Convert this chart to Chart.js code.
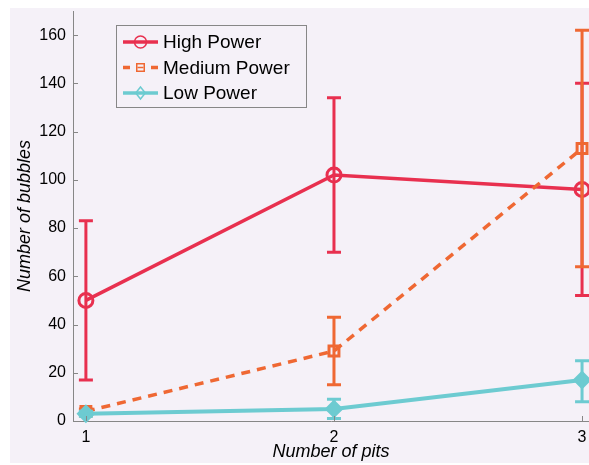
<!DOCTYPE html>
<html>
<head>
<meta charset="utf-8">
<script src="https://cdn.jsdelivr.net/npm/chart.js@4/dist/chart.umd.min.js"></script>
<style>
  html, body { margin: 0; padding: 0; background: #ffffff; }
  canvas { display: block; }
</style>
</head>
<body>
<canvas id="c" width="589" height="465"></canvas>
<script>
// Number of pits on the x axis
const pits = [1, 2, 3];

// Mean bubble counts per power level
const highPower = [50, 102, 96];
const mediumPower = [4, 29, 113];
const lowPower = [3, 5, 17];

// Error bar extents (lower / upper)
const highLower = [17, 70, 52];
const highUpper = [83, 134, 140];
const mediumLower = [3, 15, 64];
const mediumUpper = [5, 43, 162];
const lowLower = [2, 1, 8];
const lowUpper = [4, 9, 25];

// Tick labels
const xTicks = [1, 2, 3];
const yTicks = [0, 20, 40, 60, 80, 100, 120, 140, 160];

const seriesLabels = ['High Power', 'Medium Power', 'Low Power'];

const RED = '#e8304f';
const ORANGE = '#ef6833';
const CYAN = '#6dcbd1';
const AXIS = '#878787';
const PANEL = '#f5f1f8';
const FONT = "'Liberation Sans', Arial, Helvetica, sans-serif";

const toPoints = (ys) => pits.map((x, i) => ({ x: x, y: ys[i] }));

const errors = [
  { lower: highLower, upper: highUpper },
  { lower: mediumLower, upper: mediumUpper },
  { lower: lowLower, upper: lowUpper }
];

// Lavender figure panel behind the axes
const panelPlugin = {
  id: 'panel',
  beforeDraw(chart) {
    const ctx = chart.ctx;
    ctx.save();
    ctx.fillStyle = PANEL;
    ctx.fillRect(10, 8, chart.width - 10, 455);
    ctx.restore();
  }
};

// Inward tick marks on both axes
const innerTicksPlugin = {
  id: 'innerTicks',
  afterDraw(chart) {
    const { ctx, scales: { x, y }, chartArea } = chart;
    ctx.save();
    ctx.strokeStyle = AXIS;
    ctx.lineWidth = 1;
    ctx.beginPath();
    yTicks.forEach(v => {
      const py = Math.round(y.getPixelForValue(v)) + 0.5;
      ctx.moveTo(chartArea.left, py);
      ctx.lineTo(chartArea.left + 5, py);
    });
    xTicks.forEach(v => {
      const px = Math.round(x.getPixelForValue(v)) + 0.5;
      ctx.moveTo(px, chartArea.bottom);
      ctx.lineTo(px, chartArea.bottom - 5);
    });
    ctx.stroke();
    ctx.restore();
  }
};

// Vertical error bars with caps, drawn right after each series
const errorBarPlugin = {
  id: 'errorBars',
  afterDatasetDraw(chart, args) {
    const idx = args.index;
    const ds = chart.data.datasets[idx];
    const err = errors[idx];
    const { ctx, scales: { x, y } } = chart;
    ctx.save();
    ctx.strokeStyle = ds.borderColor;
    ctx.lineWidth = 3;
    ctx.setLineDash([]);
    ctx.lineCap = 'butt';
    pits.forEach((p, i) => {
      const px = x.getPixelForValue(p);
      const yl = y.getPixelForValue(err.lower[i]);
      const yu = y.getPixelForValue(err.upper[i]);
      ctx.beginPath();
      ctx.moveTo(px, yl);
      ctx.lineTo(px, yu);
      ctx.moveTo(px - 7, yl);
      ctx.lineTo(px + 7, yl);
      ctx.moveTo(px - 7, yu);
      ctx.lineTo(px + 7, yu);
      ctx.stroke();
    });
    ctx.restore();
  }
};

function drawMarker(ctx, style, cx, cy, r, color, filled) {
  ctx.beginPath();
  if (style === 'circle') {
    ctx.arc(cx, cy, r, 0, Math.PI * 2);
  } else if (style === 'rect') {
    ctx.rect(cx - r * 0.75, cy - r * 0.75, r * 1.5, r * 1.5);
  } else {
    ctx.moveTo(cx, cy - r);
    ctx.lineTo(cx + r * 0.8, cy);
    ctx.lineTo(cx, cy + r);
    ctx.lineTo(cx - r * 0.8, cy);
    ctx.closePath();
  }
  if (filled) { ctx.fillStyle = color; ctx.fill(); }
  ctx.strokeStyle = color;
  ctx.stroke();
}

// Boxed legend with line samples and markers
const legendPlugin = {
  id: 'boxLegend',
  afterDraw(chart) {
    const ctx = chart.ctx;
    const bx = 116.5, by = 25.5, bw = 190, bh = 82;
    ctx.save();
    ctx.fillStyle = PANEL;
    ctx.fillRect(bx, by, bw, bh);
    ctx.strokeStyle = AXIS;
    ctx.lineWidth = 1;
    ctx.strokeRect(bx, by, bw, bh);
    const rows = [42, 67.5, 93];
    const styles = ['circle', 'rect', 'rectRot'];
    chart.data.datasets.forEach((ds, i) => {
      const ry = rows[i];
      ctx.strokeStyle = ds.borderColor;
      ctx.lineWidth = 3.5;
      ctx.beginPath();
      if (ds.borderDash) {
        ctx.moveTo(123, ry); ctx.lineTo(130, ry);
        ctx.moveTo(151, ry); ctx.lineTo(158, ry);
      } else {
        ctx.moveTo(123, ry); ctx.lineTo(158, ry);
      }
      ctx.stroke();
      ctx.lineWidth = 1.5;
      drawMarker(ctx, styles[i], 140.5, ry, i === 1 ? 5 : 6, ds.borderColor, false);
      if (i === 1) {
        ctx.beginPath();
        ctx.moveTo(137.5, ry); ctx.lineTo(143.5, ry);
        ctx.stroke();
      }
      ctx.fillStyle = '#000';
      ctx.font = '19px ' + FONT;
      ctx.textBaseline = 'middle';
      ctx.textAlign = 'left';
      ctx.fillText(ds.label, 163, ry + 1);
    });
    ctx.restore();
  }
};

new Chart(document.getElementById('c'), {
  type: 'line',
  data: {
    datasets: [
      {
        label: seriesLabels[0],
        data: toPoints(highPower),
        borderColor: RED,
        backgroundColor: 'rgba(0,0,0,0)',
        borderWidth: 3.5,
        pointStyle: 'circle',
        pointRadius: 7,
        pointBorderWidth: 3,
        pointBackgroundColor: 'rgba(0,0,0,0)',
        order: 3,
        clip: false
      },
      {
        label: seriesLabels[1],
        data: toPoints(mediumPower),
        borderColor: ORANGE,
        backgroundColor: 'rgba(0,0,0,0)',
        borderWidth: 3.5,
        borderDash: [9, 7],
        pointStyle: 'rect',
        pointRadius: 7,
        pointBorderWidth: 3,
        pointBackgroundColor: 'rgba(0,0,0,0)',
        order: 2,
        clip: false
      },
      {
        label: seriesLabels[2],
        data: toPoints(lowPower),
        borderColor: CYAN,
        backgroundColor: CYAN,
        borderWidth: 4,
        pointStyle: 'rectRot',
        pointRadius: 8,
        pointBorderWidth: 2,
        pointBackgroundColor: CYAN,
        order: 1,
        clip: false
      }
    ]
  },
  options: {
    responsive: false,
    animation: false,
    devicePixelRatio: 1,
    layout: { autoPadding: false, padding: { top: 11, right: 0, bottom: 0, left: 0 } },
    plugins: {
      legend: { display: false },
      tooltip: { enabled: false }
    },
    scales: {
      x: {
        type: 'linear',
        min: 0.948,
        max: 3.028,
        afterBuildTicks: (s) => { s.ticks = xTicks.map(v => ({ value: v })); },
        afterFit: (s) => { s.height = 44; s.paddingLeft = 0; s.paddingRight = 0; },
        grid: { display: true, drawOnChartArea: false, drawTicks: false },
        border: { display: true, color: AXIS, width: 1 },
        ticks: { color: '#000', font: { family: FONT, size: 16 }, padding: 7, maxRotation: 0 },
        title: {
          display: true,
          text: 'Number of pits',
          color: '#000',
          font: { family: FONT, size: 18, style: 'italic' },
          padding: { top: 0, bottom: 2 }
        }
      },
      y: {
        type: 'linear',
        min: 0,
        max: 170,
        afterBuildTicks: (s) => { s.ticks = yTicks.map(v => ({ value: v })); },
        afterFit: (s) => { s.width = 73; s.paddingTop = 0; s.paddingBottom = 0; },
        grid: { display: true, drawOnChartArea: false, drawTicks: false },
        border: { display: true, color: AXIS, width: 1 },
        ticks: { color: '#000', font: { family: FONT, size: 16 }, padding: 7 },
        title: {
          display: true,
          text: 'Number of bubbles',
          color: '#000',
          font: { family: FONT, size: 18, style: 'italic' },
          padding: { top: 14, bottom: 0 }
        }
      }
    }
  },
  plugins: [panelPlugin, errorBarPlugin, innerTicksPlugin, legendPlugin]
});
</script>
</body>
</html>
